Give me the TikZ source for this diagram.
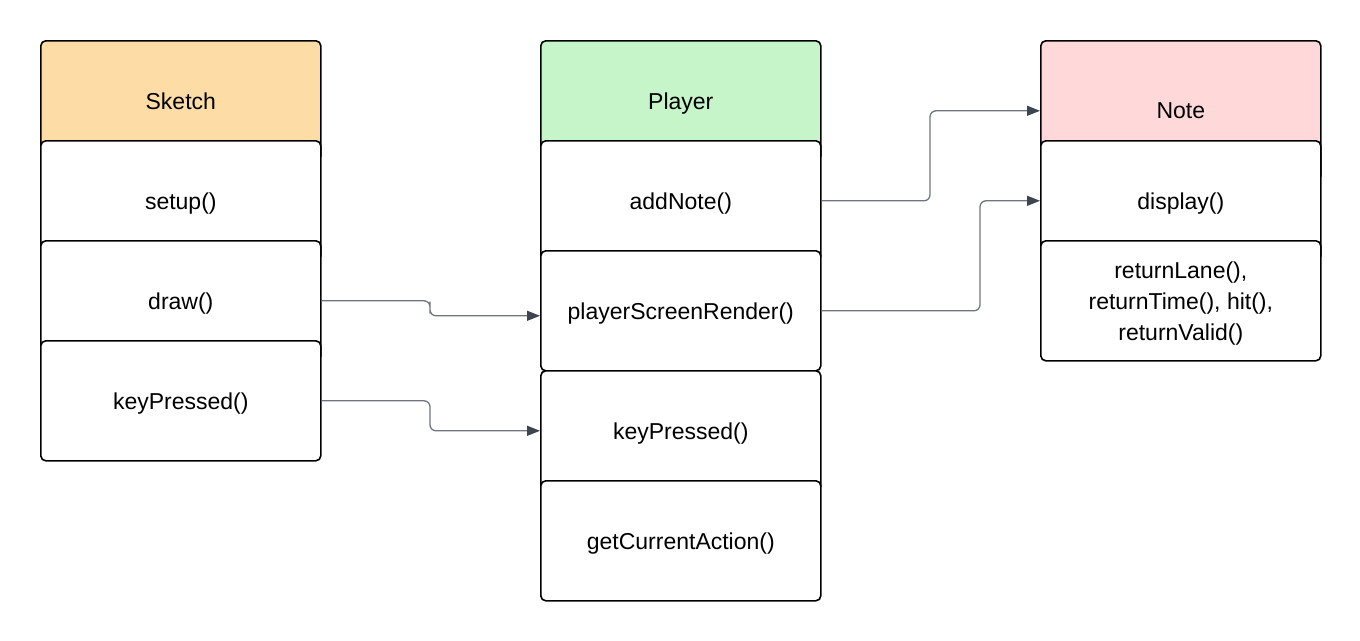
\documentclass[tikz,border=0pt]{standalone}
\usepackage{fontspec}
\setmainfont{Liberation Sans}
\usetikzlibrary{arrows.meta}
\definecolor{hdrorange}{HTML}{FDDCA6}
\definecolor{hdrgreen}{HTML}{C5F5C9}
\definecolor{hdrpink}{HTML}{FFD9DA}
\definecolor{linkgray}{HTML}{70757E}
\definecolor{tipgray}{HTML}{3E4450}
\tikzset{
  box/.style={draw=black, line width=1.6pt, rounded corners=5pt, fill=white,
    minimum width=280pt, minimum height=120pt, inner sep=0pt, align=center,
    text depth=0pt,
    font=\fontsize{23}{31}\selectfont, anchor=north west},
  link/.style={draw=linkgray, line width=1.3pt, rounded corners=6pt,
    -{Triangle[length=13pt,width=10pt,color=tipgray]}},
}
\begin{document}
\begin{tikzpicture}[x=1pt,y=-1pt]
\useasboundingbox (0,0) rectangle (1360,640);
% Sketch
\node[box, fill=hdrorange] (sk) at (40,40) {Sketch};
\node[box] (sksetup) at (40,140) {setup()};
\node[box] (skdraw) at (40,240) {draw()};
\node[box] (skkey) at (40,340) {keyPressed()};
% Player
\node[box, fill=hdrgreen] (pl) at (540,40) {Player};
\node[box] (pladd) at (540,140) {addNote()};
\node[box] (plpsr) at (540,250) {playerScreenRender()};
\node[box] (plkey) at (540,370) {keyPressed()};
\node[box] (plget) at (540,480) {getCurrentAction()};
% Note
\node[box, fill=hdrpink, minimum height=140pt] (nt) at (1040,40) {Note};
\node[box] (ntdisp) at (1040,140) {display()};
\node[box] (ntret) at (1040,240) {returnLane(),\\returnTime(), hit(),\\returnValid()};
% connectors
\coordinate (psrin) at ([yshift=-5pt]plpsr.west);
\draw[link] (skdraw.east) -| (430,307.5) |- (psrin);
\draw[link] (skkey.east) -| (430,415) |- (plkey.west);
\draw[link] (pladd.east) -| (930,155) |- (nt.west);
\draw[link] (plpsr.east) -| (980,255) |- (ntdisp.west);
\end{tikzpicture}
\end{document}
